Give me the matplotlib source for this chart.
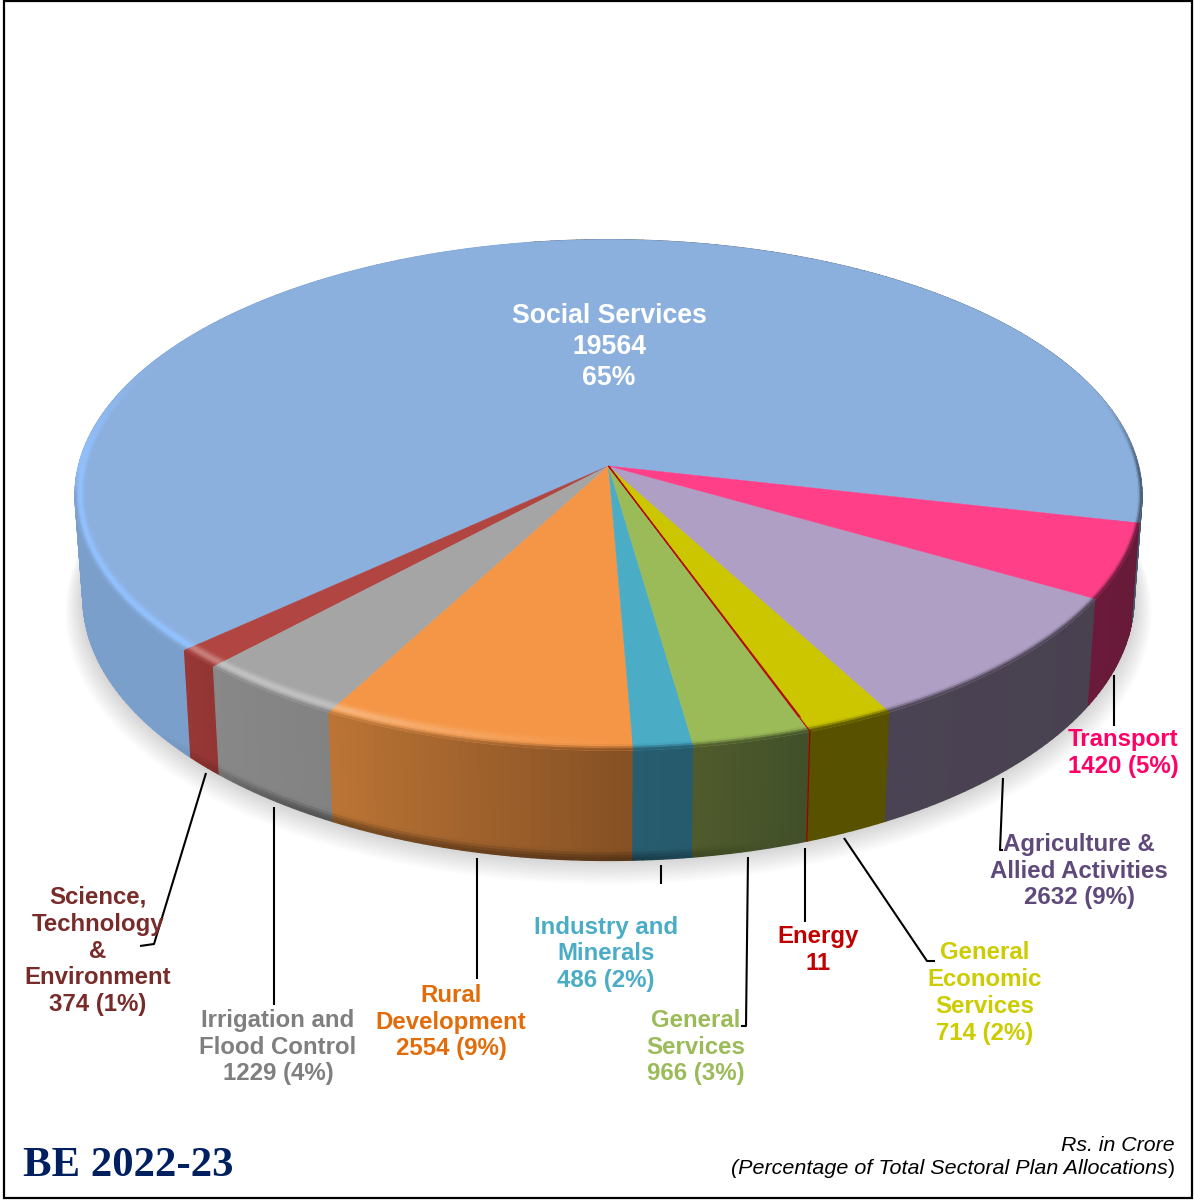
import numpy as np
import matplotlib
matplotlib.use('Agg')
import matplotlib.pyplot as plt
from matplotlib.collections import PolyCollection
from matplotlib.colors import to_rgb
from matplotlib.patches import Rectangle

# counter-clockwise from the Social Services slice
sectors = ['Social Services', 'Science, Technology & Environment', 'Irrigation and Flood Control',
           'Rural Development', 'Industry and Minerals', 'General Services', 'Energy',
           'General Economic Services', 'Agriculture & Allied Activities', 'Transport']
values = [19564, 374, 1229, 2554, 486, 966, 11, 714, 2632, 1420]

top_colors = ['#8CB0DE', '#B04541', '#A5A5A5', '#F59646', '#4BACC6',
              '#9BBB59', '#B01000', '#CCC600', '#B09FC5', '#FF4089']
wall_left = ['#7DA2CF', '#983836', '#888888', '#BC7535', '#275D70',
             '#505C2C', '#A00000', '#575100', '#4A4353', '#6B1A3B']
wall_right = ['#7093BF', '#923533', '#828282', '#855024', '#265A6C',
              '#414F2A', '#A00000', '#575100', '#494150', '#661A38']

labels = ['Social Services\n19564\n65%',
          'Science,\nTechnology\n&\nEnvironment\n374 (1%)',
          'Irrigation and\nFlood Control\n1229 (4%)',
          'Rural\nDevelopment\n2554 (9%)',
          'Industry and\nMinerals\n486 (2%)',
          'General\nServices\n966 (3%)',
          'Energy\n11',
          'General\nEconomic\nServices\n714 (2%)',
          'Agriculture &\nAllied Activities\n2632 (9%)',
          'Transport\n1420 (5%)']
label_colors = ['white', '#772C2A', '#7F7F7F', '#E36C0A', '#4BACC6',
                '#9BBB59', '#C00000', '#CCCC00', '#5F497A', '#FF0066']
label_pos = [(609, 347), (98, 951), (278, 1047), (451, 1022), (606, 954),
             (696, 1047), (818, 950), (985, 993), (1079, 871), (1123, 753)]

leaders = [None,
           [(206, 773), (154, 944), (140, 946)],
           [(274, 807), (274, 1005)],
           [(477, 858), (477, 979)],
           [(661, 865), (661, 884)],
           [(748, 857), (746, 1026), (741, 1026)],
           [(805, 848), (805, 922)],
           [(844, 838), (927, 961), (935, 961)],
           [(1003, 778), (1000, 850), (1003, 850)],
           [(1114, 675), (1114, 726)]]

# pie geometry on the page (perspective tilt)
cx, cy = 608.5, 466
A, B, k = 530, 252, 0.114
start = -12.75


def project(u, v):
    w = 1 + k * v
    return cx + A * u / w, cy - B * v / w


def lower(a):
    u, v = np.cos(np.radians(a)), np.sin(np.radians(a))
    x, y = project(u, v)
    return cx + 0.985 * (x - cx), y + 102 - 8 * v


def smooth(t):
    t = np.clip(t, 0, 1)
    return t * t * (3 - 2 * t)


def rim_point(a, t):
    # stays on the slice's radial edge, so the bevel ends line up with the slice
    ru, rv = 0.98 + 0.02 * t, 0.95 + 0.05 * t
    c, s = np.cos(np.radians(a)), np.sin(np.radians(a))
    r = 1 / np.sqrt((c / ru) ** 2 + (s / rv) ** 2)
    return project(r * c, r * s)


def wall_color(i, a):
    frac = (a - edges[i]) / max(edges[i + 1] - edges[i], 1e-6)
    c = np.array(to_rgb(wall_left[i])) * (1 - frac) + np.array(to_rgb(wall_right[i])) * frac
    if i == 0:
        # the bit of the big slice on the far right side falls into shade
        c = np.array(to_rgb('#7B9FCB')) if 100 < a else np.array(to_rgb('#46596E'))
    return c


fracs = np.array(values) / sum(values)
edges = start + np.concatenate([[0], np.cumsum(fracs)]) * 360

fig = plt.figure(figsize=(11.94, 12), dpi=100)
ax = fig.add_axes([0, 0, 1, 1])
ax.set(xlim=(0, 1194), ylim=(1200, 0))
ax.axis('off')

# soft shadow under the pie
ang = np.linspace(0, 360, 361)
sx, sy = lower(ang)
for i in range(14):
    s = 1 + 0.0024 * (14 - i)
    ax.fill(cx + s * (sx - cx), cy + 26 + s * (sy - cy - 26) + (14 - i) * 0.8,
            color='#666666', alpha=0.02, lw=0, zorder=1)

# side wall
rows = np.array([0, 0.55, 0.9, 0.93, 0.955, 0.98, 1.0])
for i in range(len(values)):
    a = np.linspace(edges[i], edges[i + 1], max(int(edges[i + 1] - edges[i]) + 2, 2))
    quads, cols = [], []
    for a0, a1 in zip(a[:-1], a[1:]):
        x0, y0 = project(np.cos(np.radians(a0)), np.sin(np.radians(a0)))
        x1, y1 = project(np.cos(np.radians(a1)), np.sin(np.radians(a1)))
        lx0, ly0 = lower(a0)
        lx1, ly1 = lower(a1)
        am = ((a0 + a1) / 2) % 360
        c = wall_color(i, (a0 + a1) / 2)
        # the foot of the wall only darkens along the front
        foot = 0.35 * smooth((am - 215) / 25) * smooth((290 - am) / 20)
        for s0, s1 in zip(rows[:-1], rows[1:]):
            quads.append([(x0 + (lx0 - x0) * s0, y0 + (ly0 - y0) * s0),
                          (x1 + (lx1 - x1) * s0, y1 + (ly1 - y1) * s0),
                          (x1 + (lx1 - x1) * s1, y1 + (ly1 - y1) * s1),
                          (x0 + (lx0 - x0) * s1, y0 + (ly0 - y0) * s1)])
            cols.append(c * (1 - foot * smooth(((s0 + s1) / 2 - 0.9) / 0.1)))
    ax.add_collection(PolyCollection(quads, facecolors=cols, edgecolors=cols, linewidths=1.0, zorder=2))

# top surface
for i in range(len(values)):
    a = np.radians(np.linspace(edges[i], edges[i + 1], max(int(edges[i + 1] - edges[i]) * 2 + 2, 2)))
    x, y = project(np.cos(a), np.sin(a))
    ax.fill(np.r_[cx, x], np.r_[cy, y], color=top_colors[i],
            lw=0.9 if i == 6 else 0.3, zorder=3 + 0.1 * (i == 6))

# bevel round the rim
ts = np.linspace(0, 1, 9)
for i in range(len(values)):
    a = np.linspace(edges[i], edges[i + 1], max(int(edges[i + 1] - edges[i]) + 2, 2))
    top = np.array(to_rgb(top_colors[i]))
    light = top + (1 - top) * 0.32
    if i == 0:
        light = np.array(to_rgb('#92C2FF'))
    quads, cols = [], []
    for a0, a1 in zip(a[:-1], a[1:]):
        am = ((a0 + a1) / 2) % 360
        fade = smooth((am - 150) / 35) if am > 100 else smooth((18 - am) / 22)
        # no wall behind the rim on the far left, so it ends light there
        to_wall = smooth((am - 178) / 10) if am > 100 else fade
        hi = smooth((275 - am) / 40) if am > 100 else 0
        c_wall = wall_color(i, (a0 + a1) / 2)
        for t0, t1 in zip(ts[:-1], ts[1:]):
            p = [rim_point(a0, t0), rim_point(a1, t0), rim_point(a1, t1), rim_point(a0, t1)]
            tm = (t0 + t1) / 2
            c = top + (c_wall - top) * to_wall * smooth((tm - 0.55) / 0.45) ** 1.5
            bump = np.exp(-((tm - 0.55) / 0.28) ** 2)
            if to_wall < 1:
                bump = bump + (1 - bump) * (1 - to_wall) * (tm > 0.55)
            c = c + (light - c) * hi * fade * bump
            quads.append(p)
            cols.append(np.clip(c, 0, 1))
    ax.add_collection(PolyCollection(quads, facecolors=cols, edgecolors=cols, linewidths=0.4, zorder=4))

# leader lines and labels
for pts in leaders:
    if pts:
        ax.plot(*zip(*pts), color='black', lw=1.5, zorder=5, solid_capstyle='butt')

for i, (txt, pos) in enumerate(zip(labels, label_pos)):
    ax.text(pos[0], pos[1], txt, color=label_colors[i], ha='center', va='center', multialignment='center',
            family='Liberation Sans', weight='bold', fontsize=19.2 if i == 0 else 17.3,
            linespacing=1.25 if i == 0 else 1.22, zorder=6)

ax.text(23, 1176, 'BE 2022-23', family='Liberation Serif', weight='bold', fontsize=30.8,
        color='#002060', ha='left', va='baseline', zorder=6)
ax.text(1175, 1151, 'Rs. in Crore', family='Liberation Sans', style='italic', fontsize=15.3,
        color='black', ha='right', va='baseline', zorder=6)
ax.text(1168, 1174, '(Percentage of Total Sectoral Plan Allocations', family='Liberation Sans',
        style='italic', fontsize=15.45, color='black', ha='right', va='baseline', zorder=6)
ax.text(1168, 1174, ')', family='Liberation Sans', fontsize=15.45, color='black',
        ha='left', va='baseline', zorder=6)

ax.add_patch(Rectangle((3.5, 0.5), 1188.5, 1197.5, fill=False, ec='black', lw=1.6, zorder=7))

fig.savefig('out.png', dpi=100)
